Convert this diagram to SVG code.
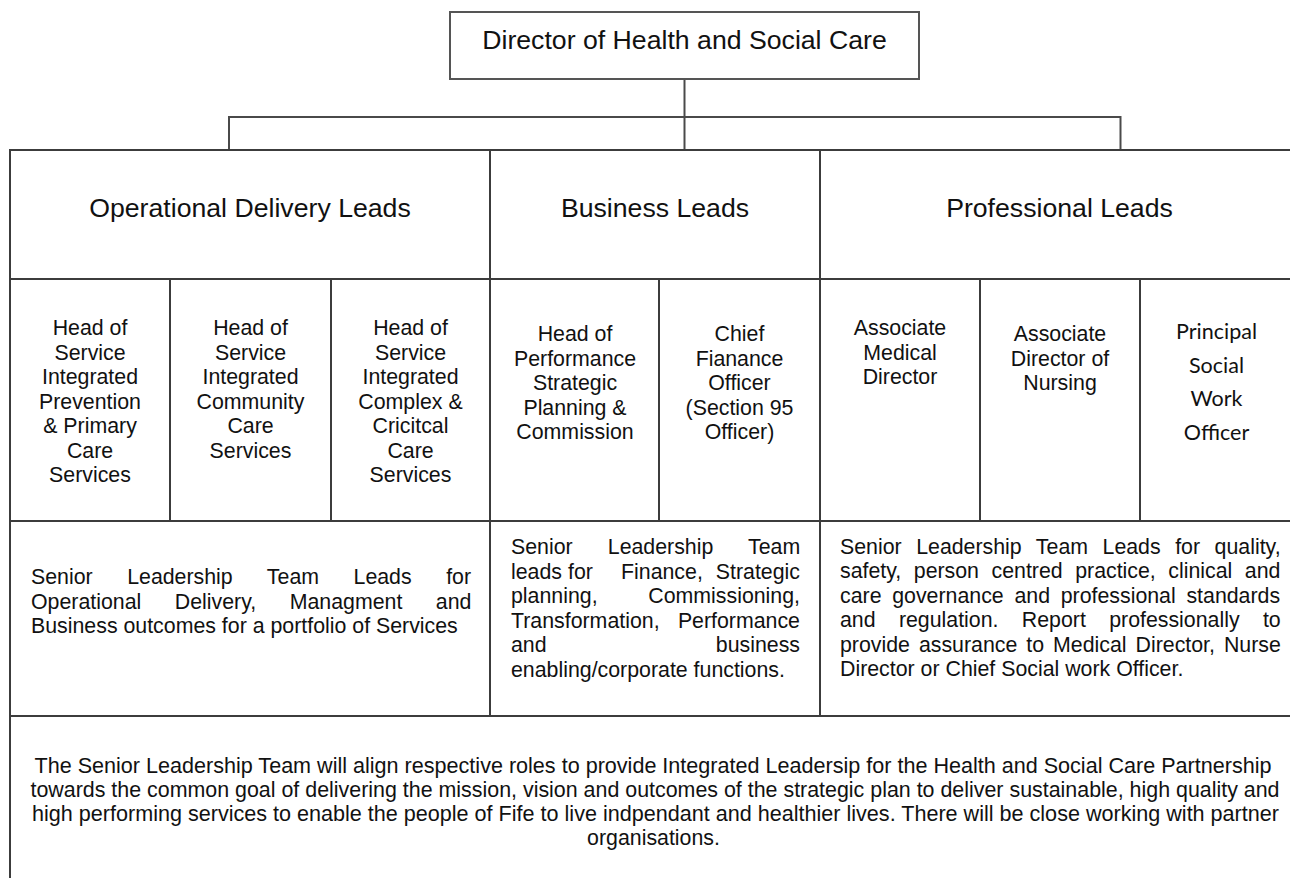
<svg xmlns="http://www.w3.org/2000/svg" width="1290" height="878" viewBox="0 0 1290 878">
  <style>
    .box { fill: #ffffff; stroke: #3c3c3c; stroke-width: 2; }
    .top { fill: #ffffff; stroke: #555555; stroke-width: 2; }
    .wire { fill: none; stroke: #4a4a4a; stroke-width: 2; }
    text { font-family: "Liberation Sans", Arial, sans-serif; fill: #111111; }
    .title { font-size: 26.67px; text-anchor: middle; }
    .cell { font-size: 21.33px; text-anchor: middle; }
    .note { font-size: 21.33px; }
    .alt { font-family: Lato, "Open Sans", sans-serif; font-size: 21.5px; text-anchor: middle; }
  </style>

  <rect width="1290" height="878" fill="#ffffff"/>

  <!-- reporting lines from the director to the three lead groups -->
  <g id="connectors">
    <line class="wire" x1="684.5" y1="79" x2="684.5" y2="150"/>
    <line class="wire" x1="229" y1="117" x2="1120.5" y2="117"/>
    <line class="wire" x1="229" y1="116" x2="229" y2="150"/>
    <line class="wire" x1="1120.5" y1="116" x2="1120.5" y2="150"/>
  </g>

  <g id="director">
    <rect class="top" x="450" y="12" width="469" height="67"/>
    <text class="title" x="684.5" y="48.5">Director of Health and Social Care</text>
  </g>

  <!-- group headings -->
  <g id="operational-leads">
    <rect class="box" x="10" y="150" width="480" height="129"/>
    <text class="title" x="250" y="217">Operational Delivery Leads</text>
  </g>
  <g id="business-leads">
    <rect class="box" x="490" y="150" width="330" height="129"/>
    <text class="title" x="655" y="217">Business Leads</text>
  </g>
  <g id="professional-leads">
    <rect class="box" x="820" y="150" width="480" height="129"/>
    <text class="title" x="1059.5" y="217">Professional Leads</text>
  </g>

  <!-- individual posts (tspans kept on one line so no stray spaces shift the centring) -->
  <g id="hos-prevention">
    <rect class="box" x="10" y="279" width="160" height="242"/>
    <text class="cell"><tspan x="90" y="335">Head of</tspan><tspan x="90" y="359.5">Service</tspan><tspan x="90" y="384">Integrated</tspan><tspan x="90" y="408.5">Prevention</tspan><tspan x="90" y="433">&amp; Primary</tspan><tspan x="90" y="457.5">Care</tspan><tspan x="90" y="482">Services</tspan></text>
  </g>
  <g id="hos-community">
    <rect class="box" x="170" y="279" width="161" height="242"/>
    <text class="cell"><tspan x="250.5" y="335">Head of</tspan><tspan x="250.5" y="359.5">Service</tspan><tspan x="250.5" y="384">Integrated</tspan><tspan x="250.5" y="408.5">Community</tspan><tspan x="250.5" y="433">Care</tspan><tspan x="250.5" y="457.5">Services</tspan></text>
  </g>
  <g id="hos-complex">
    <rect class="box" x="331" y="279" width="159" height="242"/>
    <text class="cell"><tspan x="410.5" y="335">Head of</tspan><tspan x="410.5" y="359.5">Service</tspan><tspan x="410.5" y="384">Integrated</tspan><tspan x="410.5" y="408.5">Complex &amp;</tspan><tspan x="410.5" y="433">Cricitcal</tspan><tspan x="410.5" y="457.5">Care</tspan><tspan x="410.5" y="482">Services</tspan></text>
  </g>
  <g id="head-performance">
    <rect class="box" x="490" y="279" width="169" height="242"/>
    <text class="cell"><tspan x="575" y="341">Head of</tspan><tspan x="575" y="365.5">Performance</tspan><tspan x="575" y="390">Strategic</tspan><tspan x="575" y="414.5">Planning &amp;</tspan><tspan x="575" y="439">Commission</tspan></text>
  </g>
  <g id="chief-finance">
    <rect class="box" x="659" y="279" width="161" height="242"/>
    <text class="cell"><tspan x="739.5" y="341">Chief</tspan><tspan x="739.5" y="365.5">Fianance</tspan><tspan x="739.5" y="390">Officer</tspan><tspan x="739.5" y="414.5">(Section 95</tspan><tspan x="739.5" y="439">Officer)</tspan></text>
  </g>
  <g id="associate-medical">
    <rect class="box" x="820" y="279" width="160" height="242"/>
    <text class="cell"><tspan x="900" y="335">Associate</tspan><tspan x="900" y="359.5">Medical</tspan><tspan x="900" y="384">Director</tspan></text>
  </g>
  <g id="associate-nursing">
    <rect class="box" x="980" y="279" width="160" height="242"/>
    <text class="cell"><tspan x="1060" y="341">Associate</tspan><tspan x="1060" y="365.5">Director of</tspan><tspan x="1060" y="390">Nursing</tspan></text>
  </g>
  <g id="principal-social-work">
    <rect class="box" x="1140" y="279" width="160" height="242"/>
    <text class="alt"><tspan x="1216.5" y="339">Principal</tspan><tspan x="1216.5" y="372.5">Social</tspan><tspan x="1216.5" y="406">Work</tspan><tspan x="1216.5" y="439.5">Officer</tspan></text>
  </g>

  <!-- remit of each group, justified -->
  <g id="operational-remit">
    <rect class="box" x="10" y="521" width="480" height="195"/>
    <text class="note" x="31" y="584" style="word-spacing:28.6px">Senior Leadership Team Leads for</text>
    <text class="note" x="31" y="608.5" style="word-spacing:27.6px">Operational Delivery, Managment and</text>
    <text class="note" x="31" y="633">Business outcomes for a portfolio of Services</text>
  </g>
  <g id="business-remit">
    <rect class="box" x="490" y="521" width="330" height="195"/>
    <text class="note" x="511" y="554" style="word-spacing:29.2px">Senior Leadership Team</text>
    <text class="note" y="578.5"><tspan x="511">leads</tspan><tspan x="568">for</tspan><tspan x="621">Finance,</tspan></text>
    <text class="note" x="800" y="578.5" text-anchor="end">Strategic</text>
    <text class="note" x="511" y="603">planning,</text>
    <text class="note" x="800" y="603" text-anchor="end">Commissioning,</text>
    <text class="note" x="511" y="627.5">Transformation,</text>
    <text class="note" x="800" y="627.5" text-anchor="end">Performance</text>
    <text class="note" x="511" y="652">and</text>
    <text class="note" x="800" y="652" text-anchor="end">business</text>
    <text class="note" x="511" y="676.5">enabling/corporate functions.</text>
  </g>
  <g id="professional-remit">
    <rect class="box" x="820" y="521" width="480" height="195"/>
    <text class="note" x="840" y="553.5" style="word-spacing:8.6px">Senior Leadership Team Leads for quality,</text>
    <text class="note" x="840" y="578" style="word-spacing:6.6px">safety, person centred practice, clinical and</text>
    <text class="note" x="840" y="602.5" style="word-spacing:4.8px">care governance and professional standards</text>
    <text class="note" x="840" y="627" style="word-spacing:17.4px">and regulation. Report professionally to</text>
    <text class="note" x="840" y="651.5" style="word-spacing:3.05px">provide assurance to Medical Director, Nurse</text>
    <text class="note" x="840" y="676">Director or Chief Social work Officer.</text>
  </g>

  <!-- shared purpose statement -->
  <g id="team-purpose">
    <rect class="box" x="10" y="716" width="1290" height="180"/>
    <text class="note" x="34.5" y="772.5" textLength="1237" lengthAdjust="spacingAndGlyphs">The Senior Leadership Team will align respective roles to provide Integrated Leadersip for the Health and Social Care Partnership</text>
    <text class="note" x="30.5" y="797" textLength="1249" lengthAdjust="spacingAndGlyphs">towards the common goal of delivering the mission, vision and outcomes of the strategic plan to deliver sustainable, high quality and</text>
    <text class="note" x="32" y="821" textLength="1247" lengthAdjust="spacingAndGlyphs">high performing services to enable the people of Fife to live indpendant and healthier lives. There will be close working with partner</text>
    <text class="cell" x="653.5" y="845">organisations.</text>
  </g>
</svg>
